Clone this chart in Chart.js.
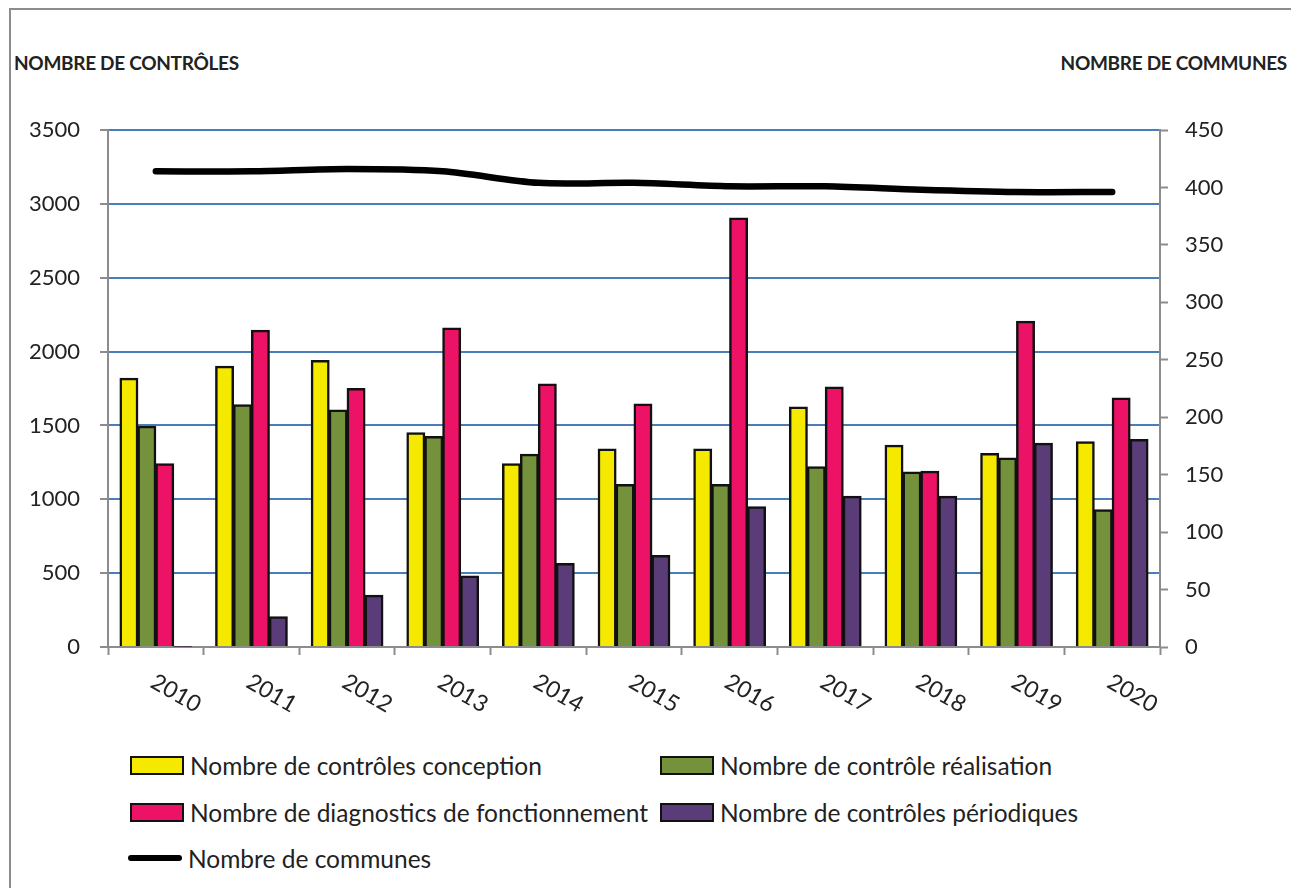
<!DOCTYPE html>
<html lang="fr">
<head>
<meta charset="utf-8">
<script src="https://cdn.jsdelivr.net/npm/chart.js@4/dist/chart.umd.min.js"></script>
<style>
  html, body { margin: 0; padding: 0; background: #fff; overflow: hidden; }
  #wrap { position: relative; width: 1291px; height: 888px; font-family: Lato, "Open Sans", sans-serif; color: #222; }
  #frame { position: absolute; left: 9px; top: 8px; width: 1300px; height: 900px; border: 2px solid #8c8c8c; box-sizing: border-box; }
  #chart-box { position: absolute; left: 0; top: 0; width: 1291px; height: 720px; }
  .axis-title { position: absolute; top: 51px; font-weight: bold; font-size: 19px; letter-spacing: -0.3px; line-height: 24px; }
  #title-left { left: 14px; }
  #title-right { right: 4px; }
  .legend-item { position: absolute; display: flex; align-items: center; font-size: 24.5px; height: 30px; white-space: nowrap; }
  .swatch { width: 50px; height: 15px; border: 2px solid #111; margin-right: 6px; }
  .line-swatch { width: 54px; height: 6px; background: #000; border-radius: 3px; margin-right: 6px; }
</style>
</head>
<body>
<div id="wrap">
  <div id="frame"></div>
  <div class="axis-title" id="title-left">NOMBRE DE CONTRÔLES</div>
  <div class="axis-title" id="title-right">NOMBRE DE COMMUNES</div>
  <div id="chart-box"><canvas id="chart-main"></canvas></div>
  <div id="legend"></div>
</div>
<script>
const years = ["2010", "2011", "2012", "2013", "2014", "2015", "2016", "2017", "2018", "2019", "2020"];
const conception = [1820, 1900, 1940, 1450, 1240, 1340, 1340, 1625, 1365, 1310, 1390];
const realisation = [1495, 1640, 1605, 1425, 1305, 1100, 1100, 1220, 1185, 1280, 930];
const diagnostics = [1240, 2145, 1750, 2160, 1780, 1645, 2905, 1760, 1190, 2205, 1685];
const periodiques = [5, 205, 350, 480, 565, 620, 950, 1020, 1020, 1380, 1405];
const communes = [414, 414, 416, 414, 404, 404, 401, 401, 398, 396, 396];

const COLORS = {
  conception: "#F5E900",
  realisation: "#74923B",
  diagnostics: "#EC1266",
  periodiques: "#5A3C78",
  communes: "#000000",
  grid: "#4A7EBB",
  axis: "#8C8C8C",
  text: "#222222",
};

const LEGEND = [
  { label: "Nombre de contrôles conception", color: COLORS.conception, left: 130, top: 750 },
  { label: "Nombre de contrôle réalisation", color: COLORS.realisation, left: 660, top: 750 },
  { label: "Nombre de diagnostics de fonctionnement", color: COLORS.diagnostics, left: 130, top: 797 },
  { label: "Nombre de contrôles périodiques", color: COLORS.periodiques, left: 660, top: 797 },
  { label: "Nombre de communes", color: null, left: 128, top: 843 },
];

function buildLegend() {
  const box = document.getElementById("legend");
  LEGEND.forEach((item) => {
    const el = document.createElement("div");
    el.className = "legend-item";
    el.style.left = item.left + "px";
    el.style.top = item.top + "px";
    const sw = document.createElement("span");
    if (item.color) {
      sw.className = "swatch";
      sw.style.background = item.color;
    } else {
      sw.className = "line-swatch";
    }
    el.appendChild(sw);
    el.appendChild(document.createTextNode(item.label));
    box.appendChild(el);
  });
}

// year labels slanted downwards, as in the original
const slantedLabels = {
  id: "slantedLabels",
  afterDraw(chart) {
    const xs = chart.scales.x;
    const ctx = chart.ctx;
    ctx.save();
    ctx.font = "23px Lato, 'Open Sans', sans-serif";
    ctx.fillStyle = COLORS.text;
    ctx.textAlign = "left";
    ctx.textBaseline = "middle";
    years.forEach((y, i) => {
      const x = xs.getPixelForValue(i);
      ctx.save();
      ctx.translate(x - 3, xs.top + 33);
      ctx.rotate(Math.PI / 6);
      ctx.fillText(y, 0, 0);
      ctx.restore();
    });
    ctx.restore();
  },
};

function barSet(label, data, color) {
  return {
    type: "bar",
    label: label,
    data: data,
    backgroundColor: color,
    borderColor: "#111",
    borderWidth: 2.5,
    inflateAmount: 0.5,
    categoryPercentage: 0.75,
    barPercentage: 1,
    yAxisID: "y",
    order: 1,
  };
}

const plainNumber = (v) => String(v);

function initChart() {
  const canvas = document.getElementById("chart-main");
  new Chart(canvas, {
    data: {
      labels: years,
      datasets: [
        {
          type: "line",
          label: "Nombre de communes",
          data: communes,
          borderColor: COLORS.communes,
          borderWidth: 6.5,
          borderCapStyle: "round",
          tension: 0.3,
          pointRadius: 0,
          fill: false,
          yAxisID: "y1",
          order: 0,
        },
        barSet("Nombre de contrôles conception", conception, COLORS.conception),
        barSet("Nombre de contrôle réalisation", realisation, COLORS.realisation),
        barSet("Nombre de diagnostics de fonctionnement", diagnostics, COLORS.diagnostics),
        barSet("Nombre de contrôles périodiques", periodiques, COLORS.periodiques),
      ],
    },
    options: {
      responsive: true,
      maintainAspectRatio: false,
      animation: false,
      layout: { padding: { left: 0, right: 0, top: 130, bottom: 0 } },
      plugins: { legend: { display: false }, tooltip: { enabled: false } },
      scales: {
        x: {
          offset: true,
          grid: {
            offset: true,
            drawOnChartArea: false,
            tickColor: COLORS.axis,
            tickLength: 8,
            tickWidth: 2,
          },
          border: { color: COLORS.axis, width: 2 },
          ticks: { display: false },
          afterFit(scale) { scale.height = 73; },
        },
        y: {
          position: "left",
          min: 0,
          max: 3500,
          grid: {
            color: COLORS.grid,
            lineWidth: 2,
            tickColor: COLORS.axis,
            tickLength: 8,
            tickWidth: 2,
          },
          border: { color: COLORS.axis, width: 2 },
          ticks: {
            stepSize: 500,
            padding: 20,
            color: COLORS.text,
            font: { family: "Lato, 'Open Sans', sans-serif", size: 22 },
            callback: plainNumber,
          },
          afterFit(scale) { scale.width = 108; },
        },
        y1: {
          position: "right",
          min: 0,
          max: 450,
          grid: {
            drawOnChartArea: false,
            tickColor: COLORS.axis,
            tickLength: 8,
            tickWidth: 2,
          },
          border: { color: COLORS.axis, width: 2 },
          ticks: {
            stepSize: 50,
            padding: 17,
            color: COLORS.text,
            font: { family: "Lato, 'Open Sans', sans-serif", size: 22 },
            callback: plainNumber,
          },
          afterFit(scale) { scale.width = 131; },
        },
      },
    },
    plugins: [slantedLabels],
  });
}

document.addEventListener("DOMContentLoaded", () => {
  buildLegend();
  initChart();
});
</script>
</body>
</html>
